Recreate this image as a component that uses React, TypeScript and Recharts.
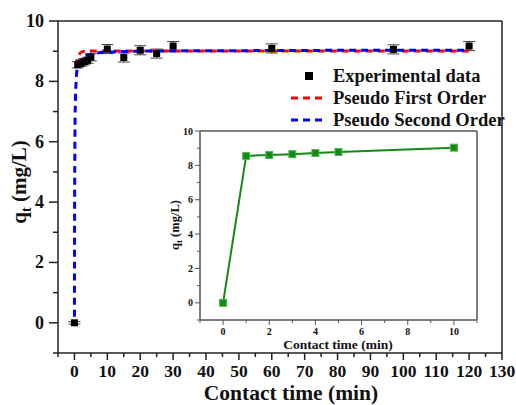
import {
  ComposedChart,
  LineChart,
  Line,
  Scatter,
  XAxis,
  YAxis,
  ErrorBar,
  ReferenceLine,
  Legend,
} from 'recharts';

const FONT = '"Liberation Serif", "Times New Roman", serif';

// experimental points
const expTime = [0, 1, 2, 3, 4, 5, 10, 15, 20, 25, 30, 60, 97, 120];
const expQt = [0, 8.55, 8.6, 8.65, 8.7, 8.8, 9.07, 8.79, 9.03, 8.92, 9.17, 9.09, 9.06, 9.17];
const expErr = [0.04, 0.1, 0.1, 0.1, 0.1, 0.12, 0.15, 0.15, 0.15, 0.15, 0.15, 0.15, 0.15, 0.15];

// pseudo first order fit (only its visible part)
const pfoTime = [0.6, 1, 1.5, 2, 3, 5, 10, 30, 60, 90, 120];
const pfoQt = [8.5, 8.78, 8.9, 8.96, 9.0, 9.01, 9.01, 9.01, 9.01, 9.01, 9.01];

// pseudo second order fit
const psoTime = [0, 0.05, 0.1, 0.2, 0.3, 0.5, 0.8, 1, 2, 3, 5, 7, 10, 15, 20, 30, 60, 90, 120];
const psoQt = [0, 3.7, 5.3, 6.8, 7.4, 8.0, 8.4, 8.48, 8.72, 8.82, 8.9, 8.94, 8.97, 8.99, 9.0, 9.01, 9.02, 9.03, 9.03];

// inset
const insetTime = [0, 1, 2, 3, 4, 5, 10];
const insetQt = [0, 8.55, 8.6, 8.65, 8.72, 8.78, 9.03];

const xTicks = [-5, 0, 5, 10, 15, 20, 25, 30, 35, 40, 45, 50, 55, 60, 65, 70, 75, 80, 85, 90, 95, 100, 105, 110, 115, 120, 125, 130];
const yTicks = [-1, 0, 1, 2, 3, 4, 5, 6, 7, 8, 9, 10];
const insetXTicks = [-1, 0, 1, 2, 3, 4, 5, 6, 7, 8, 9, 10, 11];
const insetYTicks = [-1, 0, 1, 2, 3, 4, 5, 6, 7, 8, 9, 10];

const expData = expTime.map((t, i) => ({ t, q: expQt[i], err: expErr[i] }));
const pfoData = pfoTime.map((t, i) => ({ t, q: pfoQt[i] }));
const psoData = psoTime.map((t, i) => ({ t, q: psoQt[i] }));
const insetData = insetTime.map((t, i) => ({ t, q: insetQt[i] }));

const INK = '#222';
const GREY = '#555';
const GREEN = '#168a16';

function MainXTick({ x, y, payload }: any) {
  const v = payload.value;
  const major = v % 10 === 0;
  return (
    <g>
      <line x1={x} x2={x} y1={y} y2={y + (major ? 7 : 4)} stroke={INK} strokeWidth={1.5} />
      {major && (
        <text x={x} y={y + 24} textAnchor="middle" fontFamily={FONT} fontWeight="bold" fontSize={17.5} fill="#111">
          {v}
        </text>
      )}
    </g>
  );
}

function MainYTick({ x, y, payload }: any) {
  const v = payload.value;
  const major = v >= 0 && v % 2 === 0;
  return (
    <g>
      <line x1={x} x2={x - (major ? 9 : 5)} y1={y} y2={y} stroke={INK} strokeWidth={1.5} />
      {major && (
        <text x={x - 14} y={y + 6} textAnchor="end" fontFamily={FONT} fontWeight="bold" fontSize={18} fill="#111">
          {v}
        </text>
      )}
    </g>
  );
}

function InsetXTick({ x, y, payload }: any) {
  const v = payload.value;
  const major = v >= 0 && v % 2 === 0;
  return (
    <g>
      <line x1={x} x2={x} y1={y} y2={y + (major ? 5 : 3)} stroke={GREY} strokeWidth={1} />
      {major && (
        <text x={x} y={y + 15} textAnchor="middle" fontFamily={FONT} fontWeight="bold" fontSize={10} fill="#111">
          {v}
        </text>
      )}
    </g>
  );
}

function InsetYTick({ x, y, payload }: any) {
  const v = payload.value;
  const major = v >= 0 && v % 2 === 0;
  return (
    <g>
      <line x1={x} x2={x - (major ? 5 : 3)} y1={y} y2={y} stroke={GREY} strokeWidth={1} />
      {major && (
        <text x={x - 7} y={y + 3.5} textAnchor="end" fontFamily={FONT} fontWeight="bold" fontSize={10} fill="#111">
          {v}
        </text>
      )}
    </g>
  );
}

const square = (size: number, fill: string, stroke?: string) => (props: any) => {
  const { cx, cy } = props;
  if (cx == null || cy == null) return <g />;
  return (
    <rect
      x={cx - size / 2}
      y={cy - size / 2}
      width={size}
      height={size}
      fill={fill}
      stroke={stroke || 'none'}
      strokeWidth={stroke ? 1 : 0}
    />
  );
};

function MainYTitle() {
  return (
    <text
      x={26}
      y={182}
      transform="rotate(-90 26 182)"
      textAnchor="middle"
      fontFamily={FONT}
      fontWeight="bold"
      fontSize={21}
      fill="#111"
    >
      q<tspan fontSize={14} dy={5}>t</tspan>
      <tspan dy={-5}> (mg/L)</tspan>
    </text>
  );
}

function MainXTitle() {
  return (
    <text x={291} y={400} textAnchor="middle" fontFamily={FONT} fontWeight="bold" fontSize={21.5} fill="#111">
      Contact time (min)
    </text>
  );
}

function InsetYTitle() {
  return (
    <text
      x={29}
      y={105}
      transform="rotate(-90 29 105)"
      textAnchor="middle"
      fontFamily={FONT}
      fontWeight="bold"
      fontSize={12.5}
      fill="#111"
    >
      q<tspan fontSize={9} dy={3}>t</tspan>
      <tspan dy={-3}> (mg/L)</tspan>
    </text>
  );
}

function InsetXTitle() {
  return (
    <text x={188} y={229} textAnchor="middle" fontFamily={FONT} fontWeight="bold" fontSize={13.5} fill="#111">
      Contact time (min)
    </text>
  );
}

const legendItems = [
  { label: 'Experimental data', kind: 'square', color: '#000' },
  { label: 'Pseudo First Order', kind: 'dash', color: '#ff0000' },
  { label: 'Pseudo Second Order', kind: 'dash', color: '#0000ff' },
];

function LegendBox() {
  return (
    <div style={{ fontFamily: FONT, fontWeight: 'bold', fontSize: 18.5, color: '#111' }}>
      {legendItems.map((it) => (
        <div key={it.label} style={{ display: 'flex', alignItems: 'center', height: 22, whiteSpace: 'nowrap' }}>
          <svg width={36} height={22} style={{ marginRight: 6 }}>
            {it.kind === 'square' ? (
              <rect x={14} y={7} width={8} height={8} fill={it.color} />
            ) : (
              <line x1={0} x2={36} y1={11} y2={11} stroke={it.color} strokeWidth={3} strokeDasharray="7 5" />
            )}
          </svg>
          <span>{it.label}</span>
        </div>
      ))}
    </div>
  );
}

export default function App() {
  return (
    <div style={{ position: 'absolute', left: 0, top: 0, width: 516, height: 405, background: '#fff' }}>
      <ComposedChart width={516} height={405} margin={{ top: 21, right: 14, left: 0, bottom: 0 }}>
        <XAxis
          dataKey="t"
          type="number"
          domain={[-5, 130]}
          ticks={xTicks}
          interval={0}
          allowDataOverflow
          height={52}
          tickSize={0}
          tickMargin={0}
          tickLine={false}
          tick={<MainXTick />}
          axisLine={{ stroke: INK, strokeWidth: 1.5 }}
          label={<MainXTitle />}
        />
        <YAxis
          dataKey="q"
          type="number"
          domain={[-1, 10]}
          ticks={yTicks}
          interval={0}
          allowDataOverflow
          width={58}
          tickSize={0}
          tickMargin={0}
          tickLine={false}
          tick={<MainYTick />}
          axisLine={{ stroke: INK, strokeWidth: 1.5 }}
          label={<MainYTitle />}
        />
        <ReferenceLine y={10} stroke={INK} strokeWidth={1.5} />
        <ReferenceLine x={130} stroke={INK} strokeWidth={1.5} />
        <Scatter data={expData} dataKey="q" shape={square(7, '#000')} isAnimationActive={false}>
          <ErrorBar dataKey="err" direction="y" width={6} stroke="#444" strokeWidth={1} isAnimationActive={false} />
        </Scatter>
        <Line
          data={pfoData}
          dataKey="q"
          type="monotone"
          stroke="#ff0000"
          strokeWidth={3}
          strokeDasharray="7 5"
          dot={false}
          isAnimationActive={false}
        />
        <Line
          data={psoData}
          dataKey="q"
          type="monotone"
          stroke="#0000ff"
          strokeWidth={3}
          strokeDasharray="7 5"
          strokeDashoffset={6}
          dot={false}
          isAnimationActive={false}
        />
        <Legend
          layout="vertical"
          align="center"
          verticalAlign="middle"
          wrapperStyle={{ left: 291, top: 65, width: 230 }}
          content={() => <LegendBox />}
        />
      </ComposedChart>

      <div style={{ position: 'absolute', left: 150, top: 120 }}>
        <LineChart width={340} height={240} data={insetData} margin={{ top: 11, right: 13, left: 10, bottom: 0 }}>
          <XAxis
            dataKey="t"
            type="number"
            domain={[-1, 11]}
            ticks={insetXTicks}
            interval={0}
            height={40}
            tickSize={0}
            tickMargin={0}
            tickLine={false}
            tick={<InsetXTick />}
            axisLine={{ stroke: GREY, strokeWidth: 1.5 }}
            label={<InsetXTitle />}
          />
          <YAxis
            type="number"
            domain={[-1, 10]}
            ticks={insetYTicks}
            interval={0}
            width={40}
            tickSize={0}
            tickMargin={0}
            tickLine={false}
            tick={<InsetYTick />}
            axisLine={{ stroke: GREY, strokeWidth: 1.5 }}
            label={<InsetYTitle />}
          />
          <ReferenceLine y={10} stroke={GREY} strokeWidth={1.5} />
          <ReferenceLine x={11} stroke={GREY} strokeWidth={1.5} />
          <Line
            dataKey="q"
            type="linear"
            stroke={GREEN}
            strokeWidth={2}
            dot={square(7, GREEN, '#4fb84f')}
            isAnimationActive={false}
          />
        </LineChart>
      </div>
    </div>
  );
}
